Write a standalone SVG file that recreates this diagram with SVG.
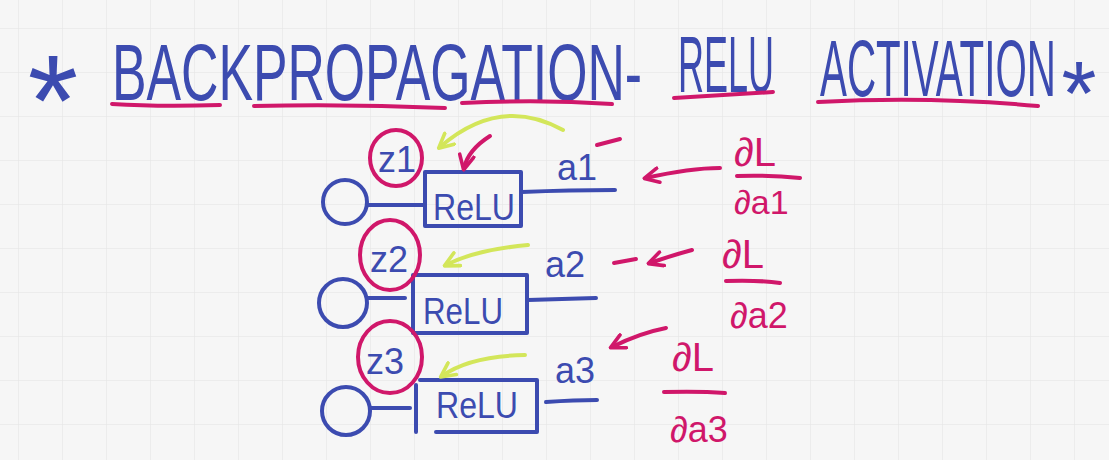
<svg xmlns="http://www.w3.org/2000/svg" width="1109" height="460" viewBox="0 0 1109 460">
<defs>
<pattern id="grid" x="18" y="28" width="44" height="44" patternUnits="userSpaceOnUse">
<path d="M0 0V44M0 0H44" fill="none" stroke="#e2e2e2" stroke-width="1"/>
</pattern>
<marker id="ahp" viewBox="0 0 10 10" refX="8" refY="5" markerWidth="4.5" markerHeight="4.5" orient="auto-start-reverse"><path d="M1 1L9 5L1 9" fill="none" stroke="#d0176a" stroke-width="2" stroke-linecap="round" stroke-linejoin="round"/></marker>
<marker id="ahy" viewBox="0 0 10 10" refX="8" refY="5" markerWidth="4.5" markerHeight="4.5" orient="auto-start-reverse"><path d="M1 1L9 5L1 9" fill="none" stroke="#d3e65a" stroke-width="2" stroke-linecap="round" stroke-linejoin="round"/></marker>
</defs>
<style>
.b{fill:none;stroke:#3c4bb0;stroke-width:4;stroke-linecap:round;stroke-linejoin:round}
.p{fill:none;stroke:#d0176a;stroke-width:4;stroke-linecap:round;stroke-linejoin:round}
.y{fill:none;stroke:#d3e65a;stroke-width:4;stroke-linecap:round;stroke-linejoin:round}
.tb{font-family:"Liberation Sans",Arial,sans-serif;fill:#3c4bb0}
.tp{font-family:"Liberation Sans",Arial,sans-serif;fill:#d0176a}
.ast{font-family:"Liberation Mono","Courier New",monospace;fill:#3c4bb0}
.title{font-size:80px}
.lbl{font-size:36px}
.relu{font-size:36px}
</style>
<rect width="1109" height="460" fill="#f6f6f6"/>
<rect width="1109" height="460" fill="url(#grid)"/>

<g id="title">
<text class="ast" x="14" y="150" font-size="130">*</text>
<text class="tb title" transform="translate(112 100) scale(0.647 1)">BACKPROPAGATION-</text>
<text class="tb title" transform="translate(678 92) scale(0.45 1)">RELU</text>
<text class="tb title" transform="translate(820 96) scale(0.504 1)">ACTIVATION</text>
<text class="ast" x="1052" y="128" font-size="90">*</text>
<path class="p" d="M112 104Q160 107 220 105M254 106Q350 104 445 108M462 103Q540 99 612 104M674 98Q720 95 773 92M818 102Q930 96 1038 106"/>
</g>

<g id="row1">
<circle class="b" cx="345" cy="202" r="22"/>
<path class="b" d="M367 205H425"/>
<rect class="b" x="425" y="172" width="96" height="54"/>
<text class="tb relu" x="433" y="220" textLength="82" lengthAdjust="spacingAndGlyphs">ReLU</text>
<ellipse class="p" cx="396" cy="158" rx="26" ry="28"/>
<text class="tb lbl" x="378" y="172" font-size="32">z1</text>
<text class="tb lbl" x="557" y="180">a1</text>
<path class="b" d="M522 192Q570 190 615 190"/>
<path class="p" d="M597 145L620 139"/>
<path class="y" d="M563 130Q500 95 440 147" marker-end="url(#ahy)"/>
<path class="p" d="M490 136Q468 150 464 168" marker-end="url(#ahp)"/>
<path class="p" d="M720 168Q690 168 646 178" marker-end="url(#ahp)"/>
<text class="tp" x="734" y="166" font-size="40">∂L</text>
<path class="p" d="M737 176Q770 175 800 178"/>
<text class="tp" x="734" y="214" font-size="34">∂a1</text>
</g>

<g id="row2">
<circle class="b" cx="343" cy="303" r="24"/>
<path class="b" d="M367 298H405"/>
<rect class="b" x="413" y="275" width="114" height="58"/>
<text class="tb relu" x="423" y="324" textLength="80" lengthAdjust="spacingAndGlyphs">ReLU</text>
<ellipse class="p" cx="390" cy="255" rx="30" ry="35"/>
<text class="tb lbl" x="370" y="272" font-size="32">z2</text>
<text class="tb lbl" x="545" y="277">a2</text>
<path class="b" d="M528 300Q560 299 596 298"/>
<path class="p" d="M614 263L636 259"/>
<path class="p" d="M692 250Q670 256 650 263" marker-end="url(#ahp)"/>
<path class="y" d="M528 245Q475 250 446 265" marker-end="url(#ahy)"/>
<text class="tp" x="722" y="268" font-size="40">∂L</text>
<path class="p" d="M726 281Q760 280 780 283"/>
<text class="tp" x="730" y="328" font-size="36">∂a2</text>
</g>

<g id="row3">
<circle class="b" cx="346" cy="411" r="24"/>
<path class="b" d="M370 408H410"/>
<path class="b" d="M416 385V432M420 380H537V432H436"/>
<text class="tb relu" x="436" y="418" textLength="82" lengthAdjust="spacingAndGlyphs">ReLU</text>
<ellipse class="p" cx="390" cy="357" rx="32" ry="36"/>
<text class="tb lbl" x="366" y="374" font-size="32">z3</text>
<text class="tb lbl" x="555" y="383">a3</text>
<path class="b" d="M546 402Q575 400 597 400"/>
<path class="y" d="M525 355Q470 356 442 376" marker-end="url(#ahy)"/>
<path class="p" d="M666 328Q640 333 612 347" marker-end="url(#ahp)"/>
<text class="tp" x="672" y="371" font-size="40">∂L</text>
<path class="p" d="M664 392Q700 391 725 393"/>
<text class="tp" x="670" y="442" font-size="36">∂a3</text>
</g>
</svg>
